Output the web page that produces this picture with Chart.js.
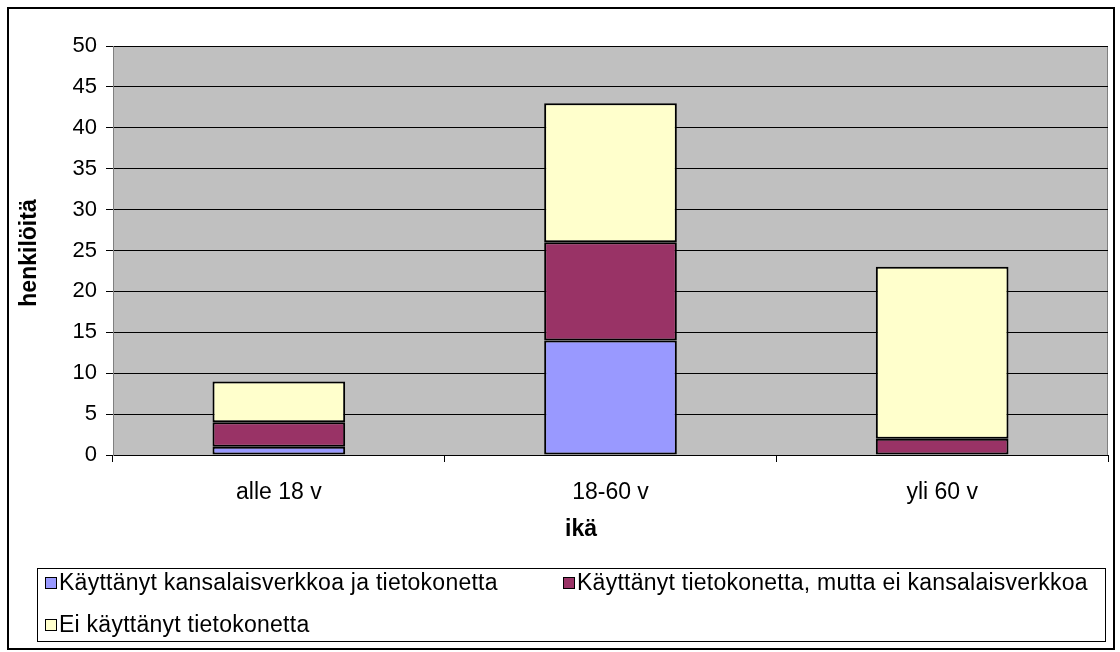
<!DOCTYPE html>
<html>
<head>
<meta charset="utf-8">
<script src="https://cdn.jsdelivr.net/npm/chart.js@4.4.0/dist/chart.umd.min.js"></script>
<style>
  html, body { margin: 0; padding: 0; background: #fff; }
  #wrap { width: 1120px; height: 652px; }
</style>
</head>
<body>
<div id="wrap"><canvas id="myChart" width="1120" height="652"></canvas></div>
<script>
// data
const categories = ["alle 18 v", "18-60 v", "yli 60 v"];
const seriesNames = [
  "Käyttänyt kansalaisverkkoa ja tietokonetta",
  "Käyttänyt tietokonetta, mutta ei kansalaisverkkoa",
  "Ei käyttänyt tietokonetta",
];
const usedBoth = [1, 14, 0];
const usedComputerOnly = [3, 12, 2];
const notUsed = [5, 17, 21];
const colors = ["#9999FF", "#993366", "#FFFFCC"];
const xTitle = "ikä";
const yTitle = "henkilöitä";

const FONT = "'Liberation Sans', Arial, sans-serif";
const SIZE = 22;

// grey plot area + outer frame
const frame = {
  id: "frame",
  beforeDraw(chart) {
    const ctx = chart.ctx;
    const a = chart.chartArea;
    ctx.save();
    ctx.fillStyle = "#fff";
    ctx.fillRect(0, 0, chart.width, chart.height);
    ctx.fillStyle = "#C0C0C0";
    ctx.fillRect(a.left, a.top, a.right - a.left, a.bottom - a.top);
    ctx.strokeStyle = "#808080";
    ctx.lineWidth = 1;
    ctx.strokeRect(a.left + 0.5, a.top + 0.5, a.right - a.left - 1, a.bottom - a.top);
    ctx.strokeStyle = "#000";
    ctx.lineWidth = 2;
    ctx.strokeRect(8, 8, 1106, 641);
    ctx.restore();
  },
};

// axis titles + legend in a box, two columns like the original
const boxLegend = {
  id: "boxLegend",
  afterDraw(chart) {
    const ctx = chart.ctx;
    ctx.save();
    ctx.fillStyle = "#000";
    ctx.textAlign = "center";
    ctx.textBaseline = "middle";
    ctx.font = "bold 23px " + FONT;
    ctx.fillText(xTitle, 581, 530);
    ctx.save();
    ctx.translate(30, 253);
    ctx.rotate(-Math.PI / 2);
    ctx.fillText(yTitle, 0, 0);
    ctx.restore();

    ctx.textAlign = "left";
    ctx.strokeStyle = "#000";
    ctx.lineWidth = 1;
    ctx.strokeRect(37.5, 568.5, 1068, 73);
    const spots = [[45, 583], [563, 583], [45, 625]];
    ctx.font = "23px " + FONT;
    ctx.letterSpacing = "0.25px";
    chart.data.datasets.forEach((ds, i) => {
      const [x, y] = spots[i];
      ctx.fillStyle = ds.backgroundColor;
      ctx.fillRect(x + 0.5, y - 5.5, 11, 11);
      ctx.strokeRect(x + 0.5, y - 5.5, 11, 11);
      ctx.fillStyle = "#000";
      ctx.fillText(ds.label, x + 14, y + 1);
    });
    ctx.restore();
  },
};

const data = {
  labels: categories,
  datasets: [
    { label: seriesNames[0], data: usedBoth, backgroundColor: colors[0] },
    { label: seriesNames[1], data: usedComputerOnly, backgroundColor: colors[1] },
    { label: seriesNames[2], data: notUsed, backgroundColor: colors[2] },
  ].map((d) => ({
    ...d,
    borderColor: "#000",
    borderWidth: 2,
    borderSkipped: false,
    categoryPercentage: 0.4,
    barPercentage: 1,
  })),
};

const config = {
  type: "bar",
  data: data,
  options: {
    responsive: false,
    animation: false,
    layout: { padding: { left: 0, top: 46, right: 12, bottom: 97 } },
    plugins: { legend: { display: false }, tooltip: { enabled: false } },
    scales: {
      x: {
        stacked: true,
        offset: true,
        grid: { offset: true, drawOnChartArea: false, color: "#000", tickLength: 7 },
        border: { color: "#000", width: 1 },
        ticks: { color: "#000", font: { family: FONT, size: 23 }, padding: 17 },
        afterFit(scale) {
          scale.height = 100;
        },
      },
      y: {
        stacked: true,
        min: 0,
        max: 50,
        ticks: { stepSize: 5, color: "#000", font: { family: FONT, size: SIZE }, padding: 9 },
        grid: { color: "#000", tickLength: 7 },
        border: { color: "#808080", width: 1 },
        afterFit(scale) {
          scale.width = 113;
        },
      },
    },
  },
  plugins: [frame, boxLegend],
};

var myChart = new Chart(document.getElementById("myChart"), config);
</script>
</body>
</html>
